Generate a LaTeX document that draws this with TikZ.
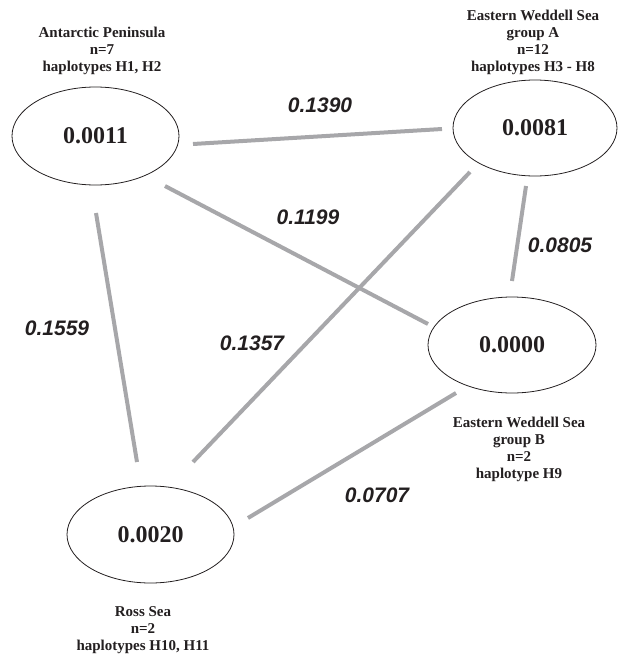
\documentclass[tikz,border=0pt]{standalone}
\usepackage{fontspec}
\setmainfont{Liberation Serif}
\newfontfamily\edgefont{Liberation Sans}
\usetikzlibrary{shapes.geometric}
\definecolor{linegray}{RGB}{167,167,170}
\definecolor{inkc}{RGB}{35,31,32}
\begin{document}
\begin{tikzpicture}[x=1pt,y=-1pt,
  ell/.style={draw=inkc,line width=0.8pt,ellipse,inner sep=0pt,text=inkc,
    font=\fontsize{24}{28}\selectfont\bfseries},
  info/.style={align=center,text=inkc,inner sep=0pt,
    font=\fontsize{15}{17}\selectfont\bfseries},
  conn/.style={draw=linegray,line width=4pt,line cap=butt},
  val/.style={text=inkc,inner sep=0pt,
    font=\edgefont\fontsize{21}{24}\selectfont\bfseries\itshape}]
\useasboundingbox (0,0) rectangle (619,656);
% ellipses
\node[ell,minimum width=167pt,minimum height=98pt] (ap) at (95.5,136) {0.0011};
\node[ell,minimum width=164pt,minimum height=96pt] (ewa) at (535,128) {0.0081};
\node[ell,minimum width=168pt,minimum height=96pt] (ewb) at (512,345) {0.0000};
\node[ell,minimum width=167pt,minimum height=97pt] (ross) at (150.5,534.5) {0.0020};
% info labels
\node[info] (apinfo) at (102,51) {Antarctic Peninsula\\n=7\\haplotypes H1, H2};
\node[info] (ewainfo) at (533,42) {Eastern Weddell Sea\\group A\\n=12\\haplotypes H3 - H8};
\node[info] (ewbinfo) at (519,449) {Eastern Weddell Sea\\group B\\n=2\\haplotype H9};
\node[info] (rossinfo) at (143,630) {Ross Sea\\n=2\\haplotypes H10, H11};
% connector ends
\coordinate (c1a) at (193,144); \coordinate (c1b) at (442,129);
\coordinate (c2a) at (165,186); \coordinate (c2b) at (428,324);
\coordinate (c3a) at (96,213);  \coordinate (c3b) at (137,462);
\coordinate (c4a) at (526,186); \coordinate (c4b) at (512,281);
\coordinate (c5a) at (470,172); \coordinate (c5b) at (193,462);
\coordinate (c6a) at (456,393); \coordinate (c6b) at (248,518);
\draw[conn] (c1a) -- (c1b);
\draw[conn] (c2a) -- (c2b);
\draw[conn] (c3a) -- (c3b);
\draw[conn] (c4a) -- (c4b);
\draw[conn] (c5a) -- (c5b);
\draw[conn] (c6a) -- (c6b);
% values
\node[val] (v1) at (320,105) {0.1390};
\node[val] (v2) at (308,217) {0.1199};
\node[val] (v3) at (560,245) {0.0805};
\node[val] (v4) at (57,328) {0.1559};
\node[val] (v5) at (252,343) {0.1357};
\node[val] (v6) at (377,495) {0.0707};
\end{tikzpicture}
\end{document}
